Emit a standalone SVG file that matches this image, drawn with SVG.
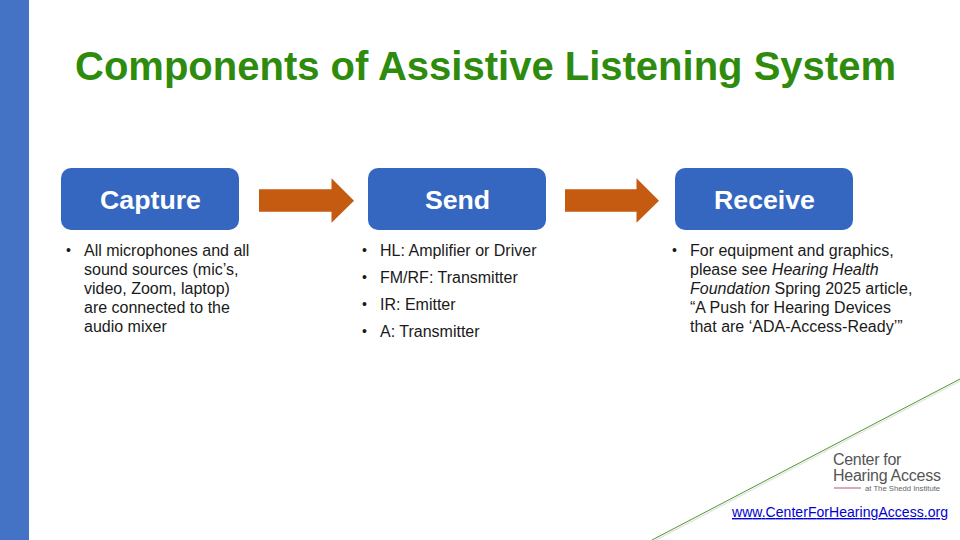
<svg xmlns="http://www.w3.org/2000/svg" width="960" height="540" viewBox="0 0 960 540">
<style>
text{font-family:"Liberation Sans",Arial,sans-serif}
.box{fill:#3567c1}
.hd{font-size:26.700px;font-weight:700;fill:#fff;text-anchor:middle}
.b{font-size:16px;fill:#1a1a1a}
.bu{font-size:14px;fill:#1a1a1a}
.arr{fill:#c55a11}
</style>
<rect width="960" height="540" fill="#fff"/>
<rect id="sidebar" x="0" y="0" width="29" height="540" fill="#4472c4"/>
<text id="title" x="485.500" y="80" font-size="40" font-weight="700" fill="#2e8b0e" text-anchor="middle">Components of Assistive Listening System</text>
<g id="connectors">
<path class="arr" d="M259 189.300H331.500V178.300L354 200.700L331.500 222.700V211.700H259Z"/>
<path class="arr" d="M565 189.300H636.500V178.300L659 200.700L636.500 222.700V211.700H565Z"/>
</g>
<g id="capture">
<rect class="box" x="61" y="168" width="178" height="62" rx="10"/>
<text class="hd" x="150.500" y="208.500">Capture</text>
<text class="bu" x="66" y="255">•</text>
<text class="b" x="84" y="256">All microphones and all</text>
<text class="b" x="84" y="275">sound sources (mic’s,</text>
<text class="b" x="84" y="294">video, Zoom, laptop)</text>
<text class="b" x="84" y="313">are connected to the</text>
<text class="b" x="84" y="332">audio mixer</text>
</g>
<g id="send">
<rect class="box" x="368" y="168" width="178" height="62" rx="10"/>
<text class="hd" x="457.500" y="208.500">Send</text>
<text class="bu" x="362" y="255">•</text><text class="b" x="380" y="256">HL: Amplifier or Driver</text>
<text class="bu" x="362" y="282">•</text><text class="b" x="380" y="283">FM/RF: Transmitter</text>
<text class="bu" x="362" y="309">•</text><text class="b" x="380" y="310">IR: Emitter</text>
<text class="bu" x="362" y="336">•</text><text class="b" x="380" y="337">A: Transmitter</text>
</g>
<g id="receive">
<rect class="box" x="675" y="168" width="178" height="62" rx="10"/>
<text class="hd" x="764.500" y="208.500">Receive</text>
<text class="bu" x="672" y="255">•</text>
<text class="b" x="690" y="256">For equipment and graphics,</text>
<text class="b" x="690" y="275">please see <tspan font-style="italic">Hearing Health</tspan></text>
<text class="b" x="690" y="294"><tspan font-style="italic">Foundation</tspan> Spring 2025 article,</text>
<text class="b" x="690" y="313">“A Push for Hearing Devices</text>
<text class="b" x="690" y="332">that are ‘ADA-Access-Ready’”</text>
</g>
<line id="diagonal-shadow" x1="653" y1="541.500" x2="961" y2="380.500" stroke="#999" stroke-width="1.500" opacity=".25"/>
<line id="diagonal" x1="652" y1="540" x2="960" y2="379" stroke="#4f9a2c" stroke-width="1"/>
<g id="logo">
<text x="833" y="465" font-size="16" fill="#555" letter-spacing="-.3">Center for</text>
<text x="833" y="480.500" font-size="16" fill="#555" letter-spacing="-.25">Hearing Access</text>
<line x1="834" y1="488" x2="861" y2="488" stroke="#b0566f" stroke-width="1"/>
<text x="865" y="491" font-size="7.700" fill="#666">at The Shedd Institute</text>
</g>
<text id="link" x="732" y="517" font-size="14" fill="#0000d0" text-decoration="underline" textLength="216">www.CenterForHearingAccess.org</text>
</svg>
